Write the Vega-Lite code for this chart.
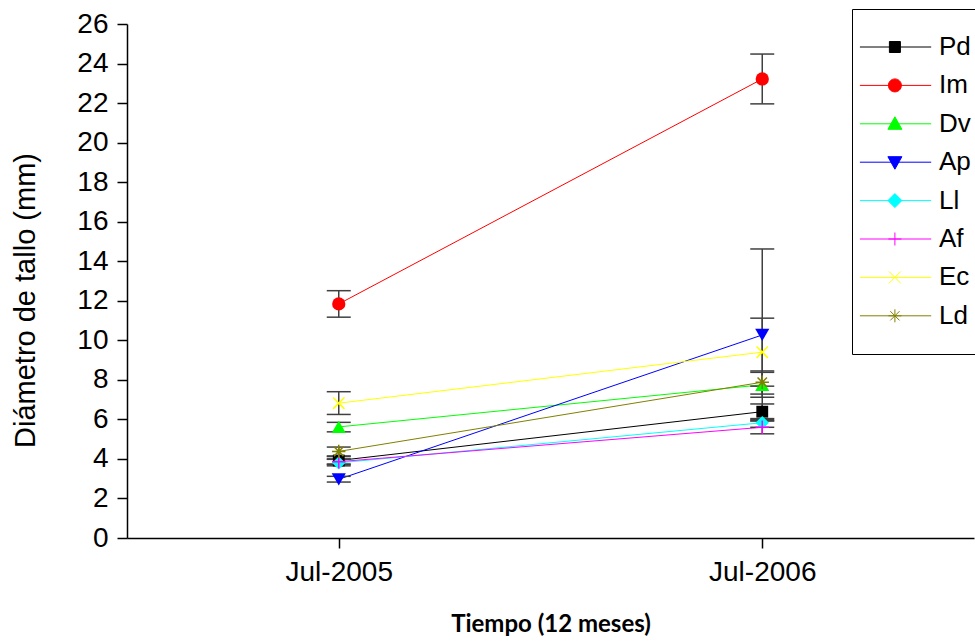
{
  "$schema": "https://vega.github.io/schema/vega-lite/v6.json",
  "width": 847,
  "height": 514,
  "autosize": {"type": "none"},
  "padding": {"left": 127, "top": 24, "right": 1, "bottom": 103},
  "background": "white",
  "config": {
    "view": {"stroke": null},
    "axis": {
      "grid": false,
      "domainColor": "#000000",
      "domainWidth": 1.5,
      "tickColor": "#000000",
      "tickWidth": 1.5,
      "tickSize": 10,
      "labelFont": "Liberation Sans",
      "labelFontSize": 28,
      "labelColor": "#000000",
      "titleFont": "Liberation Sans",
      "titleFontSize": 29,
      "titleFontWeight": "normal",
      "titleColor": "#000000"
    },
    "axisX": {"labelAngle": 0, "labelPadding": 10, "titlePadding": 26, "titleFont": "Lato", "titleFontWeight": "bold", "titleFontSize": 24},
    "axisY": {"labelPadding": 9, "titlePadding": 36, "titleY": 276}
  },
  "data": {
    "values": [
      {"series": "Pd", "time": "Jul-2005", "mean": 3.92, "lo": 3.72, "hi": 4.12},
      {"series": "Im", "time": "Jul-2005", "mean": 11.84, "lo": 11.17, "hi": 12.51},
      {"series": "Dv", "time": "Jul-2005", "mean": 5.62, "lo": 5.37, "hi": 5.85},
      {"series": "Ap", "time": "Jul-2005", "mean": 2.97, "lo": 2.83, "hi": 3.12},
      {"series": "Ll", "time": "Jul-2005", "mean": 3.8, "lo": 3.65, "hi": 3.98},
      {"series": "Af", "time": "Jul-2005", "mean": 3.86, "lo": 3.74, "hi": 4.0},
      {"series": "Ec", "time": "Jul-2005", "mean": 6.82, "lo": 6.25, "hi": 7.4},
      {"series": "Ld", "time": "Jul-2005", "mean": 4.38, "lo": 4.15, "hi": 4.6},
      {"series": "Pd", "time": "Jul-2006", "mean": 6.39, "lo": 6.0, "hi": 6.78},
      {"series": "Im", "time": "Jul-2006", "mean": 23.22, "lo": 21.96, "hi": 24.48},
      {"series": "Dv", "time": "Jul-2006", "mean": 7.75, "lo": 7.12, "hi": 8.38},
      {"series": "Ap", "time": "Jul-2006", "mean": 10.27, "lo": 5.92, "hi": 14.62},
      {"series": "Ll", "time": "Jul-2006", "mean": 5.83, "lo": 5.6, "hi": 6.04},
      {"series": "Af", "time": "Jul-2006", "mean": 5.6, "lo": 5.27, "hi": 5.93},
      {"series": "Ec", "time": "Jul-2006", "mean": 9.4, "lo": 7.68, "hi": 11.12},
      {"series": "Ld", "time": "Jul-2006", "mean": 7.88, "lo": 7.28, "hi": 8.45}
    ]
  },
  "encoding": {
    "x": {
      "field": "time",
      "type": "ordinal",
      "sort": ["Jul-2005", "Jul-2006"],
      "scale": {"type": "point", "padding": 0.5, "domain": ["Jul-2005", "Jul-2006"]},
      "title": "Tiempo (12 meses)"
    },
    "y": {
      "field": "mean",
      "type": "quantitative",
      "scale": {"domain": [0, 26], "nice": false},
      "axis": {"values": [0, 2, 4, 6, 8, 10, 12, 14, 16, 18, 20, 22, 24, 26]},
      "title": "Diámetro de tallo (mm)"
    }
  },
  "layer": [
    {
      "mark": {"type": "line", "strokeWidth": 1},
      "encoding": {
        "color": {
          "field": "series",
          "type": "nominal",
          "scale": {"domain": ["Pd", "Im", "Dv", "Ap", "Ll", "Af", "Ec", "Ld"], "range": ["#000000", "#ff0000", "#00ff00", "#0000ff", "#00ffff", "#ff00ff", "#ffff00", "#808000"]}
        }
      }
    },
    {
      "mark": {"type": "rule", "color": "#404040", "strokeWidth": 1.5},
      "encoding": {
        "y": {"field": "lo", "type": "quantitative", "title": "Diámetro de tallo (mm)"},
        "y2": {"field": "hi"}
      }
    },
    {
      "mark": {"type": "tick", "orient": "horizontal", "size": 24, "thickness": 1.5, "color": "#404040", "opacity": 1},
      "encoding": {"y": {"field": "lo", "type": "quantitative", "title": "Diámetro de tallo (mm)"}}
    },
    {
      "mark": {"type": "tick", "orient": "horizontal", "size": 24, "thickness": 1.5, "color": "#404040", "opacity": 1},
      "encoding": {"y": {"field": "hi", "type": "quantitative", "title": "Diámetro de tallo (mm)"}}
    },
    {
      "transform": [{"filter": {"field": "series", "equal": "Pd"}}],
      "mark": {"type": "point", "shape": "square", "filled": true, "color": "#000000", "size": 140, "opacity": 1}
    },
    {
      "transform": [{"filter": {"field": "series", "equal": "Im"}}],
      "mark": {"type": "point", "shape": "circle", "filled": true, "color": "#ff0000", "size": 175, "opacity": 1}
    },
    {
      "transform": [{"filter": {"field": "series", "equal": "Dv"}}],
      "mark": {"type": "point", "shape": "triangle-up", "filled": true, "color": "#00ff00", "size": 200, "opacity": 1}
    },
    {
      "transform": [{"filter": {"field": "series", "equal": "Ap"}}],
      "mark": {"type": "point", "shape": "triangle-down", "filled": true, "color": "#0000ff", "size": 200, "opacity": 1}
    },
    {
      "transform": [{"filter": {"field": "series", "equal": "Ll"}}],
      "mark": {"type": "point", "shape": "diamond", "filled": true, "color": "#00ffff", "size": 180, "opacity": 1}
    },
    {
      "transform": [{"filter": {"field": "series", "equal": "Af"}}],
      "mark": {"type": "point", "shape": "M-1,0H1M0,-1V1", "filled": false, "color": "#ff00ff", "strokeWidth": 1.5, "size": 180, "opacity": 1}
    },
    {
      "transform": [{"filter": {"field": "series", "equal": "Ec"}}],
      "mark": {"type": "point", "shape": "M-0.85,-0.85L0.85,0.85M-0.85,0.85L0.85,-0.85", "filled": false, "color": "#ffff00", "strokeWidth": 1.5, "size": 180, "opacity": 1}
    },
    {
      "transform": [{"filter": {"field": "series", "equal": "Ld"}}],
      "mark": {"type": "point", "shape": "M-1,0H1M0,-1V1M-0.7,-0.7L0.7,0.7M-0.7,0.7L0.7,-0.7", "filled": false, "color": "#808000", "strokeWidth": 1.5, "size": 180, "opacity": 1}
    },
    {
      "mark": {"type": "point", "filled": true, "opacity": 0, "strokeWidth": 1},
      "encoding": {
        "color": {
          "field": "series",
          "type": "nominal",
          "scale": {"domain": ["Pd", "Im", "Dv", "Ap", "Ll", "Af", "Ec", "Ld"], "range": ["#000000", "#ff0000", "#00ff00", "#0000ff", "#00ffff", "#ff00ff", "#ffff00", "#808000"]},
          "legend": {
            "orient": "none", "legendX": 725, "legendY": -15, "title": null,
            "padding": 25, "strokeColor": "#000000", "fillColor": "#ffffff",
            "symbolSize": 400, "symbolStrokeWidth": 1, "symbolOpacity": 1,
            "labelFont": "Liberation Sans", "labelFontSize": 26, "labelColor": "#000000",
            "labelOffset": 36, "rowPadding": 12.4, "labelLimit": 300
          }
        },
        "stroke": {
          "field": "series",
          "type": "nominal",
          "scale": {"domain": ["Pd", "Im", "Dv", "Ap", "Ll", "Af", "Ec", "Ld"], "range": ["#000000", "#ff0000", "#00ff00", "#0000ff", "#00ffff", "#ff00ff", "#ffff00", "#808000"]},
          "legend": {
            "orient": "none", "legendX": 725, "legendY": -15, "title": null,
            "padding": 25, "strokeColor": "#000000", "fillColor": "#ffffff",
            "symbolSize": 400, "symbolStrokeWidth": 1, "symbolOpacity": 1,
            "labelFont": "Liberation Sans", "labelFontSize": 26, "labelColor": "#000000",
            "labelOffset": 36, "rowPadding": 12.4, "labelLimit": 300
          }
        },
        "shape": {
          "field": "series",
          "type": "nominal",
          "scale": {
            "domain": ["Pd", "Im", "Dv", "Ap", "Ll", "Af", "Ec", "Ld"],
            "range": [
              "M-3.01,0H4.12M-0.06,-0.55H1.04V0.55H-0.06Z",
              "M-3.01,0H4.12M-0.16,0A0.65,0.65 0 1,0 1.14,0A0.65,0.65 0 1,0 -0.16,0Z",
              "M-3.01,0H4.12M0.49,-0.7L1.19,0.55H-0.21Z",
              "M-3.01,0H4.12M0.49,0.7L1.19,-0.55H-0.21Z",
              "M-3.01,0H4.12M0.49,-0.7L1.19,0L0.49,0.7L-0.21,0Z",
              "M-3.01,0H4.12M-0.16,0H1.14M0.49,-0.65V0.65",
              "M-3.01,0H4.12M-0.11,-0.6L1.09,0.6M-0.11,0.6L1.09,-0.6",
              "M-3.01,0H4.12M-0.16,0H1.14M0.49,-0.65V0.65M0.03,-0.46L0.95,0.46M0.03,0.46L0.95,-0.46"
            ]
          },
          "legend": {
            "orient": "none", "legendX": 725, "legendY": -15, "title": null,
            "padding": 25, "strokeColor": "#000000", "fillColor": "#ffffff",
            "symbolSize": 400, "symbolStrokeWidth": 1, "symbolOpacity": 1,
            "labelFont": "Liberation Sans", "labelFontSize": 26, "labelColor": "#000000",
            "labelOffset": 36, "rowPadding": 12.4, "labelLimit": 300
          }
        }
      }
    }
  ]
}
